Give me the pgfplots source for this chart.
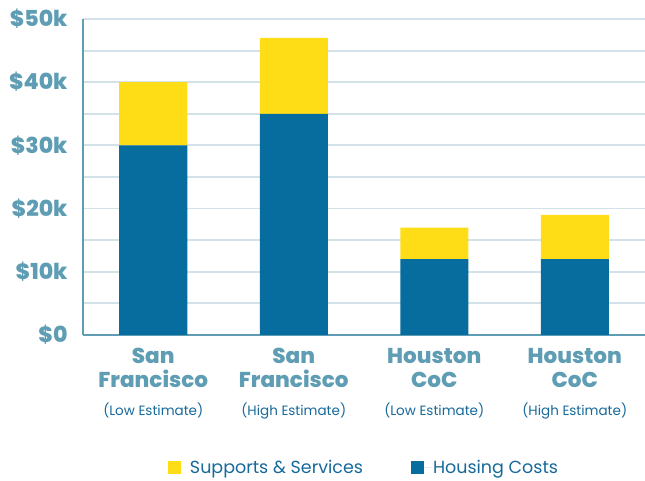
\documentclass[border=0pt]{standalone}
\usepackage{pgfplots}
\pgfplotsset{compat=1.18}
\usepackage{fontspec}
\setmainfont{Poppins}
\newfontface\heavy{Poppins ExtraBold}
\definecolor{ylw}{HTML}{FEDD17}
\definecolor{blu}{HTML}{066D9E}
\definecolor{lbl}{HTML}{5E9DB3}
\definecolor{sub}{HTML}{16699A}
\definecolor{grd}{HTML}{D3E1E8}
\newcommand{\subl}[1]{{\normalfont\fontsize{13.5}{15}\selectfont\color{sub}#1}}
\begin{document}
\begin{tikzpicture}[x=1pt,y=1pt]
\useasboundingbox (-83,-146) rectangle (562,335);
\begin{axis}[
  at={(0,0)}, anchor=south west,
  scale only axis, width=562pt, height=316pt,
  xmin=-0.5, xmax=3.5, ymin=0, ymax=50,
  ybar stacked, bar width=68pt, bar shift=0pt,
  axis lines=left, axis line style={-, lbl, line width=1.8pt},
  xtick={0,1,2,3},
  xticklabels={
    {San\\Francisco\\[4pt]\subl{(Low Estimate)}},
    {San\\Francisco\\[4pt]\subl{(High Estimate)}},
    {Houston\\CoC\\[4pt]\subl{(Low Estimate)}},
    {Houston\\CoC\\[4pt]\subl{(High Estimate)}}},
  xticklabel style={align=center, anchor=north, text=lbl, font=\heavy\fontsize{21.5}{24}\selectfont, yshift=-10pt},
  ytick={0,10,20,30,40,50},
  yticklabels={\$0,\$10k,\$20k,\$30k,\$40k,\$50k},
  yticklabel style={anchor=east, text=lbl, font=\heavy\fontsize{22}{24}\selectfont, xshift=-12pt},
  minor ytick={5,15,25,35,45},
  ymajorgrids, yminorgrids,
  major grid style={grd, line width=1.8pt},
  minor grid style={grd, line width=1.8pt},
  major tick length=0pt, minor tick length=0pt,
  clip=false,
  legend style={at={(0.5,-0.42)}, anchor=center, draw=none, fill=none,
    legend columns=2, font=\fontsize{17.5}{20}\selectfont, text=sub,
    /tikz/every even column/.append style={column sep=46pt}},
  legend image code/.code={\fill[#1] (0pt,-6.5pt) rectangle (13pt,6.5pt); \path (13pt,0pt) -- (20pt,0pt);},
  reverse legend,
]
\addplot[fill=blu, draw=none] coordinates {(0,30) (1,35) (2,12) (3,12)};
\addlegendentry{Housing Costs}
\addplot[fill=ylw, draw=none] coordinates {(0,10) (1,12) (2,5) (3,7)};
\addlegendentry{Supports \& Services}
\end{axis}
\end{tikzpicture}
\end{document}
